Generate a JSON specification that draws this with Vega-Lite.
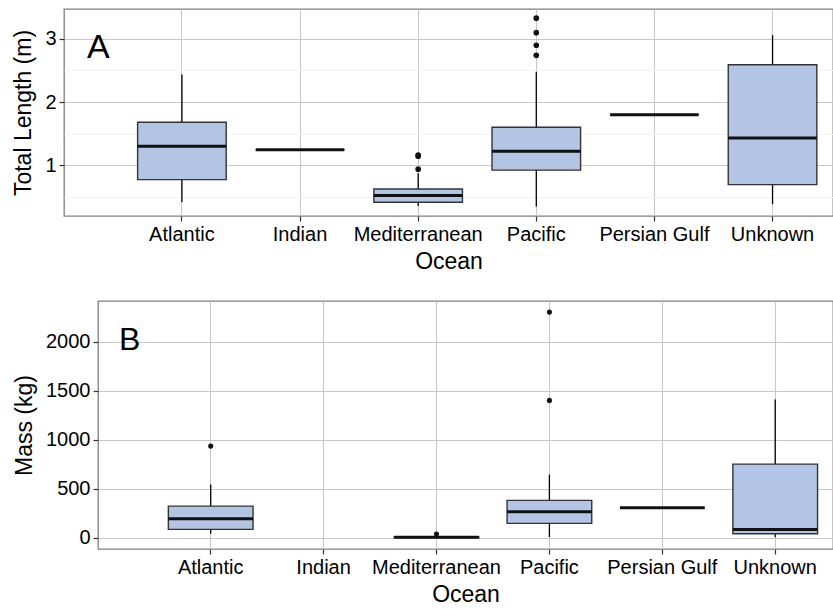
{
  "$schema": "https://vega.github.io/schema/vega-lite/v6.json",
  "padding": {"left": 11, "top": 8, "right": 0, "bottom": 0},
  "background": "white",
  "config": {
    "font": "Liberation Sans",
    "view": {"stroke": "#7f7f7f", "strokeWidth": 1.3},
    "axis": {
      "domain": false,
      "grid": true,
      "gridColor": "#c8c8c8",
      "gridWidth": 1.1,
      "tickColor": "#333333",
      "tickSize": 5,
      "tickWidth": 1.2,
      "labelFont": "Liberation Sans",
      "labelFontSize": 20,
      "labelColor": "#000000",
      "labelPadding": 3,
      "titleFont": "Liberation Sans",
      "titleFontSize": 23,
      "titleFontWeight": "normal",
      "titleColor": "#000000"
    },
    "title": {"font": "Liberation Sans", "fontWeight": "normal", "color": "#000000"}
  },
  "datasets": {
    "lengthBox": [
      {"ocean": "Atlantic", "lower": 0.415, "q1": 0.77, "median": 1.30, "q3": 1.68, "upper": 2.435},
      {"ocean": "Indian", "lower": 1.244, "q1": 1.244, "median": 1.244, "q3": 1.244, "upper": 1.244},
      {"ocean": "Mediterranean", "lower": 0.35, "q1": 0.41, "median": 0.52, "q3": 0.62, "upper": 0.87},
      {"ocean": "Pacific", "lower": 0.342, "q1": 0.92, "median": 1.22, "q3": 1.60, "upper": 2.48},
      {"ocean": "Persian Gulf", "lower": 1.80, "q1": 1.80, "median": 1.80, "q3": 1.80, "upper": 1.80},
      {"ocean": "Unknown", "lower": 0.38, "q1": 0.69, "median": 1.43, "q3": 2.59, "upper": 3.06}
    ],
    "lengthOut": [
      {"ocean": "Mediterranean", "value": 0.935},
      {"ocean": "Mediterranean", "value": 1.14},
      {"ocean": "Mediterranean", "value": 1.16},
      {"ocean": "Pacific", "value": 2.74},
      {"ocean": "Pacific", "value": 2.90},
      {"ocean": "Pacific", "value": 3.10},
      {"ocean": "Pacific", "value": 3.33}
    ],
    "massBox": [
      {"ocean": "Atlantic", "lower": 41, "q1": 85, "median": 194, "q3": 322, "upper": 544},
      {"ocean": "Mediterranean", "lower": 0, "q1": 1, "median": 4, "q3": 8, "upper": 14},
      {"ocean": "Pacific", "lower": 6, "q1": 146, "median": 265, "q3": 381, "upper": 643},
      {"ocean": "Persian Gulf", "lower": 306, "q1": 306, "median": 306, "q3": 306, "upper": 306},
      {"ocean": "Unknown", "lower": 6, "q1": 41, "median": 85, "q3": 751, "upper": 1411}
    ],
    "massOut": [
      {"ocean": "Atlantic", "value": 935},
      {"ocean": "Mediterranean", "value": 38},
      {"ocean": "Pacific", "value": 1401},
      {"ocean": "Pacific", "value": 2302}
    ],
    "empty": []
  },
  "vconcat": [
    {
      "spacing": 0,
      "hconcat": [
        {
          "width": 1,
          "height": 1,
          "view": {"stroke": null},
          "data": {"name": "empty"},
          "mark": {"type": "point", "opacity": 0},
          "encoding": {}
        },
        {
          "width": 769,
          "height": 207,
          "title": {"text": "A", "orient": "none", "anchor": "start", "frame": "group", "fontSize": 34, "baseline": "top", "dx": 23, "dy": 21.5},
          "layer": [
            {
              "data": {"name": "lengthBox"},
              "mark": {"type": "rule", "color": "#000000", "strokeWidth": 1.3},
              "encoding": {
                "x": {
                  "field": "ocean", "type": "nominal", "title": "Ocean",
                  "scale": {"type": "band", "domain": ["Atlantic", "Indian", "Mediterranean", "Pacific", "Persian Gulf", "Unknown"], "paddingInner": 0.25, "paddingOuter": 0.38, "align": 0.82},
                  "axis": {"labelAngle": 0, "titlePadding": 6}
                },
                "y": {
                  "field": "lower", "type": "quantitative", "title": "Total Length (m)",
                  "scale": {"domain": [0.193, 3.475], "nice": false, "zero": false},
                  "axis": {
                    "values": [0.5, 1, 1.5, 2, 2.5, 3],
                    "format": "~g",
                    "labelExpr": "datum.value % 1 === 0 ? datum.label : ''",
                    "gridColor": {"condition": {"test": "datum.value % 1 !== 0", "value": "#f2f2f2"}, "value": "#c8c8c8"},
                    "tickOpacity": {"condition": {"test": "datum.value % 1 !== 0", "value": 0}, "value": 1},
                    "titlePadding": 9
                  }
                },
                "y2": {"field": "upper"}
              }
            },
            {
              "data": {"name": "lengthBox"},
              "mark": {"type": "rect", "fill": "#b3c5e4", "stroke": "#333333", "strokeWidth": 1.4},
              "encoding": {
                "x": {"field": "ocean", "type": "nominal"},
                "y": {"field": "q1", "type": "quantitative"},
                "y2": {"field": "q3"}
              }
            },
            {
              "data": {"name": "lengthBox"},
              "mark": {"type": "rect", "fill": "transparent", "stroke": "#111111", "strokeWidth": 3},
              "encoding": {
                "x": {"field": "ocean", "type": "nominal"},
                "y": {"field": "median", "type": "quantitative"},
                "y2": {"field": "median"}
              }
            },
            {
              "data": {"name": "lengthOut"},
              "mark": {"type": "point", "filled": true, "color": "#111111", "size": 32, "opacity": 1},
              "encoding": {
                "x": {"field": "ocean", "type": "nominal"},
                "y": {"field": "value", "type": "quantitative"}
              }
            }
          ]
        }
      ]
    },
    {
      "spacing": 0,
      "hconcat": [
        {
          "width": 1,
          "height": 1,
          "view": {"stroke": null},
          "data": {"name": "empty"},
          "mark": {"type": "point", "opacity": 0},
          "encoding": {}
        },
        {
          "width": 735,
          "height": 248,
          "title": {"text": "B", "orient": "none", "anchor": "start", "frame": "group", "fontSize": 32, "baseline": "top", "dx": 21, "dy": 23.6},
          "layer": [
            {
              "data": {"name": "massBox"},
              "mark": {"type": "rule", "color": "#000000", "strokeWidth": 1.3},
              "encoding": {
                "x": {
                  "field": "ocean", "type": "nominal", "title": "Ocean",
                  "scale": {"type": "band", "domain": ["Atlantic", "Indian", "Mediterranean", "Pacific", "Persian Gulf", "Unknown"], "paddingInner": 0.25, "paddingOuter": 0.38, "align": 0.82},
                  "axis": {"labelAngle": 0, "titlePadding": 6}
                },
                "y": {
                  "field": "lower", "type": "quantitative", "title": "Mass (kg)",
                  "scale": {"domain": [-115, 2415], "nice": false, "zero": false},
                  "axis": {
                    "values": [0, 250, 500, 750, 1000, 1250, 1500, 1750, 2000, 2250],
                    "format": "d",
                    "labelExpr": "datum.value % 500 === 0 ? datum.label : ''",
                    "gridColor": {"condition": {"test": "datum.value % 500 !== 0", "value": "#f2f2f2"}, "value": "#c8c8c8"},
                    "tickOpacity": {"condition": {"test": "datum.value % 500 !== 0", "value": 0}, "value": 1},
                    "titlePadding": 9
                  }
                },
                "y2": {"field": "upper"}
              }
            },
            {
              "data": {"name": "massBox"},
              "mark": {"type": "rect", "fill": "#b3c5e4", "stroke": "#333333", "strokeWidth": 1.4},
              "encoding": {
                "x": {"field": "ocean", "type": "nominal"},
                "y": {"field": "q1", "type": "quantitative"},
                "y2": {"field": "q3"}
              }
            },
            {
              "data": {"name": "massBox"},
              "mark": {"type": "rect", "fill": "transparent", "stroke": "#111111", "strokeWidth": 3},
              "encoding": {
                "x": {"field": "ocean", "type": "nominal"},
                "y": {"field": "median", "type": "quantitative"},
                "y2": {"field": "median"}
              }
            },
            {
              "data": {"name": "massOut"},
              "mark": {"type": "point", "filled": true, "color": "#111111", "size": 26, "opacity": 1},
              "encoding": {
                "x": {"field": "ocean", "type": "nominal"},
                "y": {"field": "value", "type": "quantitative"}
              }
            }
          ]
        }
      ]
    }
  ],
  "spacing": 26
}
